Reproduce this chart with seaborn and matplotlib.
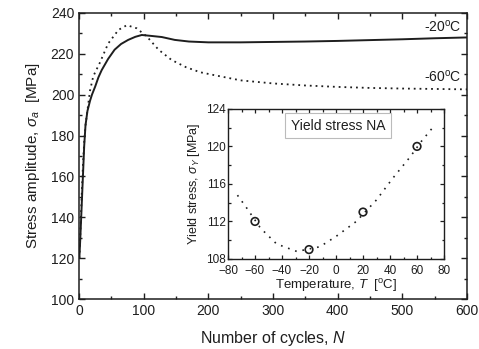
import matplotlib
matplotlib.use("Agg")
import matplotlib.pyplot as plt
import seaborn as sns
import pandas as pd
from matplotlib.ticker import MultipleLocator

sns.set_theme(style="ticks")
plt.rcParams["font.family"] = ["Liberation Sans", "DejaVu Sans"]
plt.rcParams["mathtext.fontset"] = "custom"
plt.rcParams["mathtext.rm"] = "Liberation Sans"
plt.rcParams["mathtext.it"] = "Liberation Sans:italic"

# ---- main data: stress amplitude vs number of cycles ----
n_m20 = [0.5, 2, 4, 6, 8, 10, 13, 17, 20, 25, 30, 35, 45, 55, 65, 76, 87, 97,
         110, 128, 148, 170, 200, 250, 300, 350, 400, 450, 500, 550, 600]
s_m20 = [120, 130, 145, 160, 175, 185, 192, 197, 200, 204, 208.5, 212, 217.5, 222,
         224.8, 226.8, 228.3, 229.2, 228.8, 228.2, 226.8, 226.0, 225.6, 225.6, 225.8,
         226.0, 226.3, 226.7, 227.1, 227.6, 228.0]

n_m60 = [0.5, 2, 4, 6, 8, 10, 12, 17, 22, 32, 45, 61, 74, 89, 105, 123, 143, 165,
         187, 210, 250, 300, 350, 400, 450, 500, 550, 600]
s_m60 = [120, 132, 150, 165, 177, 185, 190, 202, 209, 215.5, 225, 231.7, 234, 232.5,
         228.4, 222, 217, 213.5, 211, 209.5, 207, 205.5, 204.5, 203.8, 203.3, 203.0,
         202.8, 202.6]

# ---- inset data: yield stress vs temperature ----
temp_pts = [-60, -20, 20, 60]
yield_pts = [112, 109, 113, 120]
temp_fit = [-73, -66, -56, -44, -29, -12, 0, 15, 30, 42, 55, 63, 71]
yield_fit = [114.8, 113.4, 111.3, 109.6, 108.8, 109.3, 110.4, 112.0, 114.3, 116.6,
             118.9, 120.5, 121.9]

ink = "#1e1e1e"

fig = plt.figure(figsize=(4.79, 3.49), dpi=100)
ax = fig.add_axes([0.165, 0.143, 0.81, 0.82])

df20 = pd.DataFrame({"N": n_m20, "s": s_m20})
df60 = pd.DataFrame({"N": n_m60, "s": s_m60})
sns.lineplot(data=df20, x="N", y="s", ax=ax, color=ink, lw=1.4, estimator=None, sort=False)
sns.lineplot(data=df60, x="N", y="s", ax=ax, color=ink, lw=1.3, estimator=None, sort=False,
             linestyle=(0, (1, 2.2)))

ax.set_xlim(0, 600)
ax.set_ylim(100, 240)
ax.xaxis.set_major_locator(MultipleLocator(100))
ax.xaxis.set_minor_locator(MultipleLocator(50))
ax.yaxis.set_major_locator(MultipleLocator(20))
ax.yaxis.set_minor_locator(MultipleLocator(10))
ax.tick_params(which="both", direction="in", top=True, right=True, colors=ink,
               labelsize=10, width=1.0)
ax.tick_params(which="major", length=4)
ax.tick_params(which="minor", length=2.2)
for sp in ax.spines.values():
    sp.set_visible(True)
    sp.set_linewidth(1.1)
    sp.set_color(ink)
ax.set_xlabel("Number of cycles, $N$", fontsize=11.5, color=ink, labelpad=8)
ax.set_ylabel("Stress amplitude, $\\sigma_a$  [MPa]", fontsize=11, color=ink, labelpad=6)

ax.text(0.985, 0.951, "-20$^{\\mathrm{o}}$C", transform=ax.transAxes, ha="right", va="center",
        fontsize=10, color=ink)
ax.text(0.985, 0.776, "-60$^{\\mathrm{o}}$C", transform=ax.transAxes, ha="right", va="center",
        fontsize=10, color=ink)

# ---- inset ----
ins = fig.add_axes([0.476, 0.258, 0.451, 0.43])
dfi = pd.DataFrame({"T": temp_fit, "y": yield_fit})
dfp = pd.DataFrame({"T": temp_pts, "y": yield_pts})
sns.lineplot(data=dfi, x="T", y="y", ax=ins, color=ink, lw=1.2, estimator=None, sort=False,
             linestyle=(0, (1, 3.5)))
sns.scatterplot(data=dfp, x="T", y="y", ax=ins, marker="o", s=30, facecolor="none",
                edgecolor=ink, linewidth=1.2, zorder=3)
ins.set_xlim(-80, 80)
ins.set_ylim(108, 124)
ins.xaxis.set_major_locator(MultipleLocator(20))
ins.xaxis.set_minor_locator(MultipleLocator(10))
ins.yaxis.set_major_locator(MultipleLocator(4))
ins.yaxis.set_minor_locator(MultipleLocator(2))
ins.tick_params(which="both", direction="in", top=True, right=True, colors=ink,
                labelsize=8.5, width=0.9)
ins.tick_params(axis="x", pad=4)
ins.tick_params(axis="y", pad=1.5)
ins.tick_params(which="major", length=3)
ins.tick_params(which="minor", length=1.8)
for sp in ins.spines.values():
    sp.set_visible(True)
    sp.set_linewidth(1.0)
    sp.set_color(ink)
ins.set_xlabel("Temperature, $T$  [$^{\\mathrm{o}}$C]", fontsize=9.5, color=ink, labelpad=0)
ins.set_ylabel("Yield stress, $\\sigma_Y$ [MPa]", fontsize=9, color=ink, labelpad=3)
ins.text(0.509, 0.887, "Yield stress NA", transform=ins.transAxes, ha="center", va="center",
         fontsize=10, color=ink,
         bbox=dict(boxstyle="square,pad=0.4", facecolor="white", edgecolor="#bbbbbb", lw=0.8))

fig.savefig("out.png", dpi=100)
